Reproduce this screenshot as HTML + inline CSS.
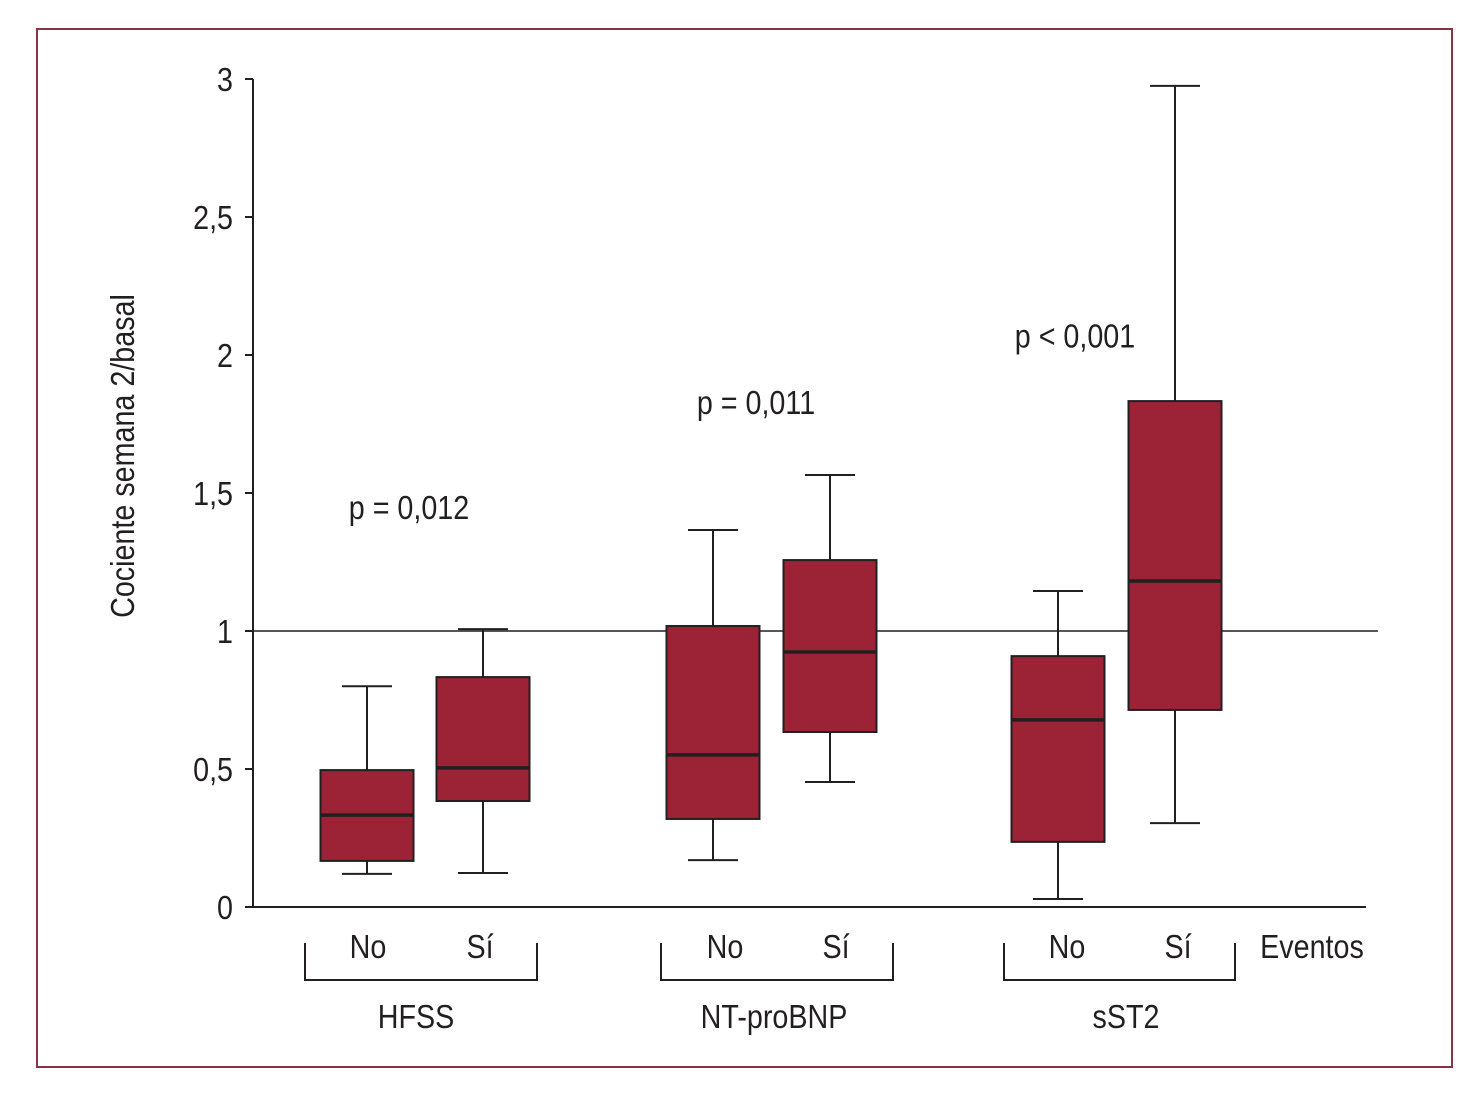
<!DOCTYPE html>
<html><head><meta charset="utf-8"><style>
body{margin:0;background:#fff;}
svg text{font-family:"Liberation Sans Narrow","Liberation Sans",sans-serif;fill:#231f20;}
</style></head><body>
<svg id="chart" width="1479" height="1108" xmlns="http://www.w3.org/2000/svg">
<rect x="37" y="29" width="1415" height="1038" fill="none" stroke="#8a3346" stroke-width="2"/>
<g id="g"></g>
</svg>
<script>
const categories=["HFSS No","HFSS Sí","NT-proBNP No","NT-proBNP Sí","sST2 No","sST2 Sí"];
const mins=[0.12,0.123,0.17,0.453,0.029,0.304];
const q1s=[0.167,0.384,0.319,0.634,0.236,0.714];
const medians=[0.333,0.504,0.551,0.924,0.678,1.181];
const q3s=[0.496,0.833,1.018,1.257,0.909,1.833];
const maxs=[0.80,1.007,1.366,1.565,1.145,2.975];
const yTicks=[0,0.5,1,1.5,2,2.5,3];
const yTickLabels=["0","0,5","1","1,5","2","2,5","3"];
const groups=["HFSS","NT-proBNP","sST2"];
const pValues=["p = 0,012","p = 0,011","p < 0,001"];
const pValueY=[1.45,1.83,2.07];

const NS="http://www.w3.org/2000/svg";
const g=document.getElementById('g');
function y(v){return 907-v*276;}
const centers=[367,483,713,830,1058,1175];
const labelX=[368,480,725,836,1067,1178];
const bracketL=[305,661,1004], bracketR=[537,893,1235];
const groupX=[416,774,1126], pX=[409,756,1075];
function x(i){return centers[i];}
function el(t,a,txt){const e=document.createElementNS(NS,t);for(const k in a)e.setAttribute(k,a[k]);if(txt!==undefined)e.textContent=txt;g.appendChild(e);return e;}
function tx(px,py,anchor,str,rot){return el('text',{x:0,y:0,'text-anchor':anchor,'font-size':33,transform:`translate(${px},${py})${rot?' rotate(-90)':''} scale(0.87,1)`},str);}

let e;
e=el('line',{x1:253,y1:79,x2:253,y2:907,stroke:'#231f20','stroke-width':2});


e=el('line',{x1:253,y1:907,x2:1366,y2:907,stroke:'#231f20','stroke-width':2});


e=el('line',{x1:253,y1:y(1),x2:1378,y2:y(1),stroke:'#231f20','stroke-width':1.5});


yTicks.forEach((t,i)=>{
 e=el('line',{x1:245,y1:y(t),x2:253,y2:y(t),stroke:'#231f20','stroke-width':2});
 
 
 e=tx(233,y(t)+12,'end',yTickLabels[i]);
 
 
});
e=tx(134,456,'middle','Cociente semana 2/basal',true);



categories.forEach((c,i)=>{
 const cx=x(i),hw=46.5;
 e=el('line',{x1:cx,y1:y(maxs[i]),x2:cx,y2:y(q3s[i]),stroke:'#231f20','stroke-width':2});
 
 
 e=el('line',{x1:cx,y1:y(q1s[i]),x2:cx,y2:y(mins[i]),stroke:'#231f20','stroke-width':2});
 
 
 e=el('line',{x1:cx-25,y1:y(maxs[i]),x2:cx+25,y2:y(maxs[i]),stroke:'#231f20','stroke-width':2});
 
 
 e=el('line',{x1:cx-25,y1:y(mins[i]),x2:cx+25,y2:y(mins[i]),stroke:'#231f20','stroke-width':2});
 
 
 e=el('rect',{x:cx-hw,y:y(q3s[i]),width:hw*2,height:y(q1s[i])-y(q3s[i]),fill:'#9b2335',stroke:'#231f20','stroke-width':2});
 
 
 e=el('line',{x1:cx-hw,y1:y(medians[i]),x2:cx+hw,y2:y(medians[i]),stroke:'#231f20','stroke-width':3.5});
 
 
 e=tx(labelX[i],958,'middle',i%2?'Sí':'No');
 
 
});
groups.forEach((gname,k)=>{
 e=el('path',{d:`M${bracketL[k]} 943 V980 H${bracketR[k]} V943`,fill:'none',stroke:'#231f20','stroke-width':2});
 
 
 e=tx(groupX[k],1028,'middle',gname);
 
 
 e=tx(pX[k],y(pValueY[k])+12,'middle',pValues[k]);
 
 
});
e=tx(1312,958,'middle','Eventos');


</script>
</body></html>
